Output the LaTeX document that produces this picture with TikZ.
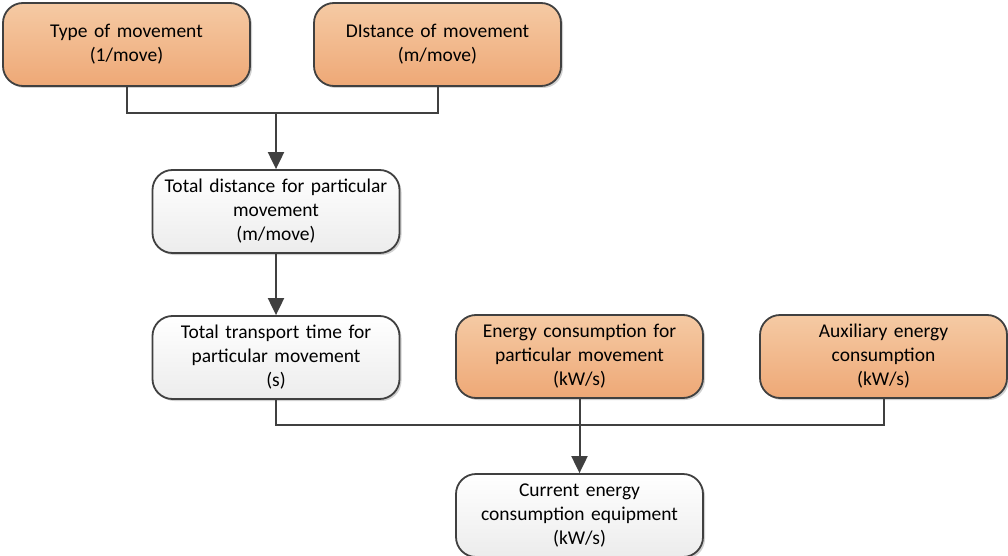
\documentclass[tikz,border=0pt]{standalone}
\usepackage{fontspec}
\setmainfont{Carlito}
\usetikzlibrary{shadows,arrows.meta}
\definecolor{edge}{RGB}{64,64,64}
\definecolor{orTop}{RGB}{245,202,164}
\definecolor{orBot}{RGB}{238,168,118}
\definecolor{grBot}{RGB}{236,236,236}
\tikzset{
  box/.style={draw=edge, line width=1.8pt, rounded corners=20pt,
    minimum width=247pt, minimum height=83pt, text width=240pt,
    align=center, inner sep=0pt,
    font=\fontsize{19.5}{24}\selectfont,
    drop shadow={shadow xshift=2pt, shadow yshift=-2pt, opacity=0.18, fill=black}},
  inbox/.style={box, top color=orTop, bottom color=orBot},
  calcbox/.style={box, top color=white, bottom color=grBot},
  link/.style={draw=edge, line width=2pt},
  flow/.style={link, -{Triangle[length=17pt,width=16pt]}},
}
\begin{document}
\begin{tikzpicture}[x=1pt,y=-1pt]
  \clip (0,0) rectangle (1008,556);
  \fill[white] (0,0) rectangle (1008,556);

  \node[inbox]   (ty)   at (126.5,44.5)  {Type of movement\\(1/move)};
  \node[inbox]   (dist) at (437.5,44.5)  {DIstance of movement\\(m/move)};
  \node[calcbox] (tot)  at (276,211.5)   {Total distance for particular\\movement\\(m/move)};
  \node[calcbox] (tt)   at (276,357.5)   {Total transport time for\\particular movement\\(s)};
  \node[inbox]   (ec)   at (579.5,356.5) {Energy consumption for\\particular movement\\(kW/s)};
  \node[inbox]   (aux)  at (883.5,356.5) {Auxiliary energy\\consumption\\(kW/s)};
  \node[calcbox] (cur)  at (579.5,515.5) {Current energy\\consumption equipment\\(kW/s)};

  \coordinate (j1) at (276,113);
  \coordinate (j2) at (579.5,425);

  \draw[link] (ty.south) |- (j1) -| (dist.south);
  \draw[flow] (j1) -- (tot.north);
  \draw[flow] (tot.south) -- (tt.north);
  \draw[link] (tt.south) |- (j2) -| (aux.south);
  \draw[flow] (ec.south) -- (cur.north);
\end{tikzpicture}
\end{document}
